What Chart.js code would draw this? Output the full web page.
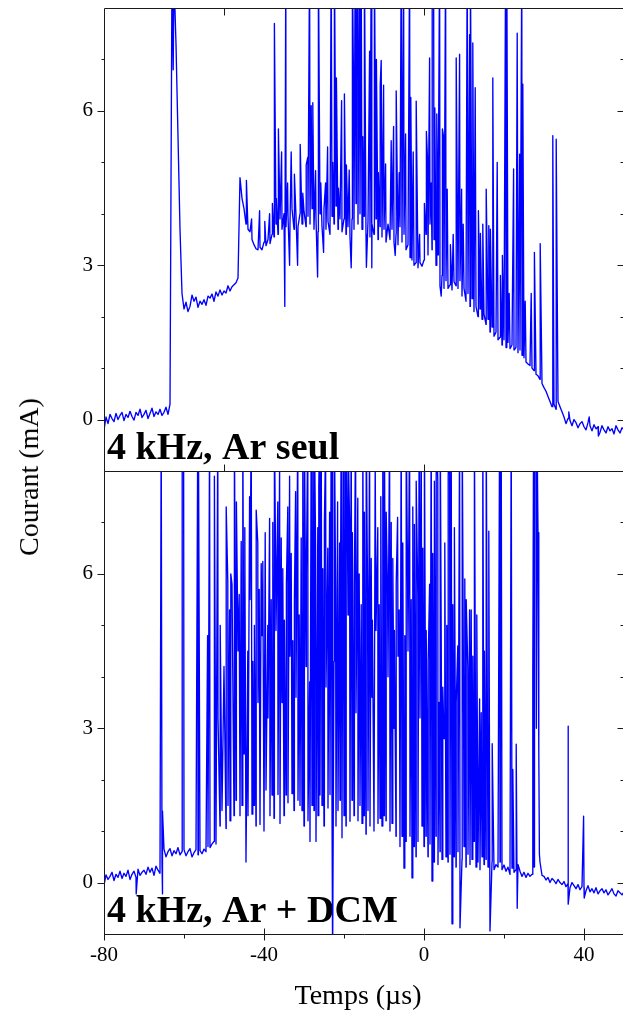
<!DOCTYPE html>
<html>
<head>
<meta charset="utf-8">
<script src="https://cdn.jsdelivr.net/npm/chart.js@4.4.1/dist/chart.umd.min.js"></script>
<style>
  html, body { margin: 0; padding: 0; background: #fff; overflow: hidden; }
  #wrap { position: relative; width: 623px; height: 1019px; overflow: hidden; }
  canvas { position: absolute; left: 0; top: 0; }
  .title { position: absolute; font-family: "Liberation Serif", serif; font-size: 28px; line-height: 1; white-space: nowrap; color: #000; }
  #ytitle { left: 29px; top: 477px; transform: translate(-50%, -50%) rotate(-90deg); }
  #xtitle { left: 358px; top: 981px; transform: translateX(-50%); }
</style>
</head>
<body>
<div id="wrap">
  <canvas id="topChart" width="630" height="500"></canvas>
  <canvas id="bottomChart" width="630" height="1019"></canvas>
  <div id="ytitle" class="title">Courant (mA)</div>
  <div id="xtitle" class="title">Temps (µs)</div>
</div>
<script>
// ------------------------------------
// DATA (time in µs, current in mA)
// ------------------------------------
const sampleStart = -80;
const sampleStep = 0.5;

const xTickLabels = [-80, -40, 0, 40];
const xMinorTicks = [-60, -20, 20];
const topXTicks = [-50, 0, 50];
const yTickLabels = [0, 3, 6];
const yMinorTicks = [1, 2, 4, 5, 7];

const topLabel = "4 kHz, Ar seul";
const bottomLabel = "4 kHz, Ar + DCM";

// slow part of the signal, one value every 0.5 µs from -80 µs
const topBase = [
  -0.2, 0.05, -0.08, 0.1, 0.02, -0.04, 0.12, 0.0, 0.08, 0.14,     // -80
  -0.02, 0.1, 0.04, 0.16, 0.06, -0.01, 0.14, 0.08, 0.2, 0.04,     // -75
  0.1, 0.18, 0.02, 0.12, 0.22, 0.06, 0.15, 0.1, 0.2, 0.08,        // -70
  0.14, 0.24, 0.1, 0.3, 8.8, 8.6, 7.3, 5.5, 3.7, 2.45,            // -65
  2.15, 2.28, 2.1, 2.2, 2.42, 2.3, 2.38, 2.18, 2.3, 2.24,         // -60
  2.33, 2.22, 2.4, 2.36, 2.44, 2.3, 2.48, 2.4, 2.52, 2.42,        // -55
  2.5, 2.46, 2.6, 2.5, 2.58, 2.62, 2.66, 2.75, 4.7, 4.3,          // -50
  4.1, 3.8, 3.7, 3.65, 3.5, 3.4, 3.32, 3.3, 3.35, 3.3,            // -45
  3.45, 3.38, 3.5, 3.42, 3.6, 3.55, 3.8, 3.6, 3.9, 3.7,           // -40
  4.0, 3.75, 3.95, 3.8, 4.1, 3.7, 3.95, 3.75, 4.0, 3.8,           // -35
  4.05, 3.75, 3.95, 3.8, 4.1, 3.7, 3.9, 3.65, 4.0, 3.75,          // -30
  4.1, 3.7, 3.85, 3.6, 3.95, 3.8, 4.15, 3.7, 3.9, 3.65,           // -25
  3.9, 3.6, 3.75, 3.55, 3.9, 3.7, 4.2, 3.8, 4.0, 3.7,             // -20
  3.95, 3.6, 3.85, 3.55, 3.8, 3.6, 3.9, 3.5, 3.75, 3.55,          // -15
  3.7, 3.45, 3.8, 3.5, 3.7, 3.45, 3.6, 3.4, 3.75, 3.45,           // -10
  3.6, 3.3, 3.4, 3.15, 3.1, 3.0, 3.05, 2.95, 3.05, 2.98,          // -5
  3.1, 3.6, 3.2, 3.8, 3.3, 3.5, 3.0, 3.2, 2.6, 2.8,               // 0
  2.55, 2.7, 2.55, 2.62, 2.52, 2.68, 2.6, 2.55, 2.7, 2.4,         // 5
  2.55, 2.3, 2.45, 2.2, 2.35, 2.1, 2.2, 2.0, 2.15, 1.95,          // 10
  2.05, 1.85, 1.95, 1.7, 1.8, 1.62, 1.7, 1.55, 1.6, 1.45,         // 15
  1.55, 1.4, 1.5, 1.38, 1.45, 1.35, 1.4, 1.3, 1.35, 1.25,         // 20
  1.2, 1.12, 1.08, 1.05, 1.0, 0.95, 0.88, 0.85, 0.78, 0.7,        // 25
  0.62, 0.55, 0.45, 0.35, 0.25, 0.3, 0.2, 0.35, 0.25, 0.15,       // 30
  0.05, -0.08, 0.02, -0.02, -0.12, 0.0, -0.06, -0.16, -0.08, -0.04,   // 35
  -0.14, -0.2, -0.06, -0.12, -0.22, -0.1, -0.18, -0.14, -0.25, -0.12, // 40
  -0.2, -0.26, -0.14, -0.22, -0.18, -0.28, -0.12, -0.2, -0.26, -0.16, // 45
  -0.2                                                             // 50
];

// narrow spikes on top of the slow part: [time, current]
const topSpikes = [
  [-62.7, 6.8], [-44.4, 4.65], [-43.1, 3.9], [-41.1, 4.06], [-39.8, 3.85],
  [-38.6, 4.0], [-37.9, 4.2], [-37.4, 7.7], [-36.9, 4.3], [-36.4, 5.65],
  [-35.6, 5.2], [-34.8, 2.2], [-34.55, 9], [-34.1, 4.6], [-33.6, 3.0],
  [-33.2, 5.2], [-32.4, 4.77], [-31.6, 3.0], [-30.95, 5.35], [-30.3, 4.4],
  [-29.45, 4.95], [-29.05, 5.1], [-28.6, 9], [-28.2, 6.1], [-27.8, 6.16],
  [-27.1, 4.84], [-26.6, 2.77], [-26.4, 9], [-25.8, 4.6], [-25.1, 3.25],
  [-24.6, 4.6], [-24.1, 5.3], [-23.2, 9], [-22.8, 5.0], [-22.4, 9],
  [-21.9, 6.64], [-21.4, 4.5], [-20.6, 6.2], [-19.9, 6.33], [-19.4, 4.95],
  [-18.7, 4.85], [-18.2, 2.95], [-17.9, 9], [-17.6, 6.3], [-17.2, 9],
  [-16.9, 7.48], [-16.6, 9], [-16.1, 9], [-15.7, 9], [-15.3, 5.5],
  [-14.9, 9], [-14.4, 2.96], [-13.6, 7.16], [-13.2, 9], [-13.05, 2.95],
  [-12.4, 9], [-11.9, 7.0], [-11.4, 4.8], [-10.95, 6.5], [-10.7, 6.98],
  [-10.1, 6.5], [-9.6, 4.97], [-8.2, 5.42], [-7.6, 5.7], [-7.2, 3.19],
  [-6.95, 6.39], [-6.2, 4.8], [-5.7, 9], [-5.1, 9], [-4.6, 5.55],
  [-3.6, 9], [-3.3, 6.26], [-2.7, 5.2], [-1.95, 6.19], [-1.1, 3.6],
  [0.1, 4.2], [0.6, 5.6], [0.9, 5.03], [1.4, 7.03], [1.8, 4.6],
  [2.05, 9], [2.4, 9], [2.7, 6.06], [3.2, 5.94], [3.6, 4.9],
  [3.9, 9], [4.3, 2.4], [4.6, 5.65], [4.9, 5.5], [5.4, 9],
  [5.8, 4.48], [6.6, 3.4], [7.3, 3.6], [8.05, 7.03], [8.9, 7.1],
  [9.4, 4.48], [9.8, 3.8], [10.8, 9], [11.4, 7.48], [11.6, 9],
  [12.2, 7.32], [12.8, 6.45], [13.6, 4.06], [14.1, 3.62], [14.7, 3.8],
  [15.55, 4.48], [16.2, 3.77], [16.6, 3.7], [17.2, 6.64], [18.3, 5.0],
  [19.1, 2.8], [19.6, 3.19], [20.4, 9], [20.7, 9], [21.3, 2.45],
  [22.4, 4.87], [23.3, 7.51], [23.9, 5.16], [24.45, 9], [24.7, 6.52],
  [25.3, 2.3], [26.8, 2.45], [27.6, 3.25], [29.05, 3.42], [32.2, 5.52],
  [33.05, 5.45], [33.3, 2.52], [36.2, 0.15], [41.3, 0.05], [43.6, -0.32]
];

const bottomBase = [
  -0.05, 0.15, 0.06, 0.12, 0.2, 0.04, 0.16, 0.1, 0.22, 0.08,      // -80
  0.18, 0.12, 0.24, 0.06, 0.16, 0.22, 0.1, 0.26, 0.14, 0.2,       // -75
  0.24, 0.16, 0.3, 0.2, 0.28, 0.14, 0.32, 0.24, 0.18, 0.36,       // -70
  0.65, 0.5, 0.6, 0.66, 0.52, 0.62, 0.56, 0.68, 0.54, 0.6,        // -65
  0.64, 0.52, 0.6, 0.66, 0.5, 0.58, 0.64, 0.54, 0.62, 0.56,       // -60
  0.65, 0.6, 0.7, 0.68, 0.75, 0.8, 0.75, 3.2, 1.1, 1.4,           // -55
  4.2, 1.05, 1.5, 1.2, 5.8, 1.3, 1.6, 4.5, 1.3, 1.5,              // -50
  2.5, 0.4, 1.3, 5.5, 1.33, 1.5, 1.1, 3.5, 1.13, 4.8,             // -45
  1.0, 1.8, 3.2, 1.3, 1.7, 1.25, 4.9, 1.71, 1.15, 3.5,            // -40
  1.3, 1.7, 1.55, 4.4, 1.73, 1.4, 3.6, 1.6, 1.5, 1.4,             // -35
  1.1, 4.2, 1.2, 0.8, 1.5, 1.4, 0.8, 1.3, 1.7, 1.5,               // -30
  1.1, 3.8, 1.45, 1.71, 1.5, 4.3, 1.1, 1.4, 1.6, 0.87,            // -25
  1.3, 1.1, 5.2, 1.19, 1.6, 1.3, 3.3, 1.2, 1.5, 1.15,             // -20
  1.3, 0.94, 1.4, 1.1, 3.6, 1.0, 4.9, 1.15, 1.25, 1.1,            // -15
  1.3, 1.2, 4.0, 1.0, 1.15, 3.0, 0.9, 4.4, 0.7, 0.9,              // -10
  0.28, 0.8, 4.5, 0.9, 0.09, 0.7, 0.5, 0.8, 3.2, 1.1,             // -5
  0.7, 0.9, 0.5, 0.75, 0.03, 0.4, 0.9, 0.35, 0.6, 0.45,           // 0
  2.8, 0.5, 0.4, 0.55, -0.8, 0.5, 0.3, 0.6, -0.88, 0.45,          // 5
  0.7, 0.3, 0.55, 0.35, 0.45, 0.8, 0.3, 0.4, 0.25, 0.5,           // 10
  0.35, 0.45, 0.3, -0.94, 0.4, 0.25, 0.35, 0.3, 0.4, 0.25,        // 15
  0.34, 0.22, 0.3, 0.16, 0.28, 0.2, 0.25, 0.35, 0.22, 0.12,       // 20
  0.2, 0.1, 0.18, 0.12, 0.16, 0.3, 9, 6.8, 0.4, 0.14,             // 25
  0.12, 0.05, 0.1, 0.0, 0.08, 0.04, -0.02, 0.06, 0.0, -0.04,      // 30
  0.02, -0.08, -0.02, -0.1, 0.0, -0.06, -0.12, -0.04, -0.14, -0.08,   // 35
  -0.1, -0.16, -0.06, -0.18, -0.12, -0.2, -0.1, -0.22, -0.16, -0.12,  // 40
  -0.2, -0.14, -0.24, -0.18, -0.12, -0.22, -0.26, -0.16, -0.2, -0.24, // 45
  -0.18                                                            // 50
];

const bottomSpikes = [
  [-71.95, -0.22], [-65.7, 9], [-65.45, -0.22], [-65.3, 1.39], [-60.45, 9],
  [-60.1, 9], [-56.55, 9], [-56.4, 9], [-54.1, 4.8], [-53.6, 9],
  [-52.4, 7.9], [-51.55, 9], [-50.95, 5.0], [-49.45, 7.3], [-49.05, 5.85],
  [-48.6, 5.3], [-48.3, 6.0], [-47.4, 9], [-46.9, 7.4], [-46.2, 5.6],
  [-45.7, 6.63], [-45.3, 9], [-44.8, 6.9], [-44.05, 4.5], [-43.6, 7.5],
  [-43.2, 9], [-42.8, 4.3], [-42.4, 5.0], [-41.95, 7.24], [-41.55, 6.6],
  [-41.2, 5.7], [-40.7, 6.2], [-40.3, 6.24], [-39.7, 6.8], [-39.05, 5.0],
  [-38.6, 7.08], [-38.2, 5.5], [-37.8, 7.0], [-37.4, 9], [-37.1, 6.3],
  [-36.55, 7.4], [-36.1, 8.2], [-35.7, 6.7], [-35.3, 6.1], [-34.9, 5.1],
  [-34.4, 5.8], [-34.05, 7.3], [-33.6, 7.9], [-33.2, 6.4], [-32.8, 4.7],
  [-32.4, 5.5], [-32.1, 7.6], [-31.55, 9], [-31.2, 5.2], [-30.7, 6.7],
  [-30.3, 8.4], [-29.9, 9], [-29.4, 6.0], [-29.05, 9], [-28.6, 3.9],
  [-28.2, 9], [-27.8, 9], [-27.4, 9], [-27.1, 6.5], [-26.55, 6.9],
  [-26.3, 7.7], [-26.1, 9], [-25.7, 9], [-25.3, 6.1], [-24.9, 7.0],
  [-24.6, 8.6], [-24.05, 6.5], [-23.6, 7.2], [-23.2, 9], [-22.9, 9],
  [-22.8, -1.5], [-22.4, 9], [-22.1, 5.7], [-21.6, 7.4], [-21.1, 6.6],
  [-20.9, 5.2], [-20.7, 9], [-20.2, 9], [-19.8, 9], [-19.45, 9],
  [-19.1, 6.4], [-18.9, 8.3], [-18.6, 7.0], [-18.2, 9], [-17.9, 6.8],
  [-17.4, 5.8], [-17.1, 9], [-16.55, 7.47], [-16.2, 6.0], [-15.7, 5.4],
  [-15.3, 9], [-14.9, 7.2], [-14.45, 9], [-14.1, 5.6], [-13.6, 9],
  [-13.2, 6.3], [-12.9, 5.1], [-12.2, 8.2], [-11.55, 6.9], [-11.2, 5.4],
  [-10.8, 7.5], [-10.3, 9], [-9.9, 9], [-9.45, 7.2], [-9.1, 5.6],
  [-8.6, 9], [-8.2, 7.0], [-7.8, 6.3], [-7.4, 4.9], [-6.95, 5.8],
  [-6.6, 7.1], [-6.2, 5.3], [-5.7, 9], [-5.3, 6.6], [-4.8, 4.8],
  [-4.45, 9], [-4.1, 5.9], [-3.6, 9], [-3.2, 5.5], [-2.8, 7.3],
  [-2.4, 6.96], [-1.95, 7.8], [-1.55, 5.6], [-1.2, 9], [-0.7, 9],
  [-0.3, 6.5], [0.1, 9], [0.55, 4.9], [1.05, 4.3], [1.4, 5.8],
  [1.8, 9], [2.2, 6.4], [2.6, 7.8], [3.05, 9], [3.45, 7.8],
  [3.8, 3.5], [4.05, 9], [4.3, 4.9], [4.7, 3.8], [5.2, 6.6],
  [5.7, 5.0], [6.05, 7.9], [6.4, 9], [6.8, 9], [7.2, 5.4],
  [7.6, 6.9], [8.05, 3.5], [8.45, 4.6], [8.9, 9], [9.55, 9],
  [9.9, 3.3], [10.2, 5.9], [10.55, 5.5], [10.95, 4.2], [11.4, 5.3],
  [11.8, 5.3], [12.2, 4.4], [12.6, 9], [13.2, 5.2], [13.9, 3.57],
  [14.3, 3.3], [14.7, 9], [15.1, 4.5], [15.55, 9], [16.2, 6.83],
  [17.05, 2.7], [18.9, 9], [19.1, 5.3], [19.3, 9], [21.8, 9],
  [22.2, 2.2], [23.05, 2.69], [23.3, -0.5], [27.2, 4.1], [27.4, 9],
  [27.55, 1.0], [27.7, 9], [27.95, 9], [28.1, 3.0], [28.3, 8.5],
  [28.7, 2.55], [28.85, 0.55], [36.0, 3.04], [36.1, -0.42], [39.9, 1.29],
  [40.05, -0.3]
];

// ------------------------------------
// merge slow part + spikes into one {x, y} series
// ------------------------------------
function buildSeries(base, spikes) {
  const pts = base.map((v, i) => ({ x: sampleStart + i * sampleStep, y: v }));
  spikes.forEach(([t, v]) => pts.push({ x: t, y: v }));
  pts.sort((a, b) => a.x - b.x);
  return pts;
}

// ------------------------------------
// PLUGINS: panel label + Origin-style frame with ticks
// ------------------------------------
const panelLabel = {
  id: "panelLabel",
  beforeDatasetsDraw(chart, args, opts) {
    const { ctx, chartArea: a } = chart;
    ctx.save();
    ctx.font = 'bold 38px "Liberation Serif", serif';
    ctx.fillStyle = "#000";
    ctx.textBaseline = "alphabetic";
    ctx.fillText(opts.text, a.left + 3, a.bottom - 12);
    ctx.restore();
  },
};

const axisFrame = {
  id: "axisFrame",
  afterDatasetsDraw(chart, args, opts) {
    const { ctx, chartArea: a, scales } = chart;
    const px = (v) => Math.round(v) + 0.5;
    const L = px(a.left), R = px(a.right), T = px(a.top), B = px(a.bottom);
    ctx.save();
    ctx.strokeStyle = "#1a1a1a";
    ctx.lineWidth = 1;
    ctx.beginPath();
    ctx.rect(L, T, R - L, B - T);
    opts.yMajor.forEach((v) => {
      const p = px(scales.y.getPixelForValue(v));
      ctx.moveTo(L - 7, p); ctx.lineTo(L, p);
      ctx.moveTo(R, p); ctx.lineTo(R - 7, p);
    });
    opts.yMinor.forEach((v) => {
      const p = px(scales.y.getPixelForValue(v));
      ctx.moveTo(L - 3, p); ctx.lineTo(L, p);
      ctx.moveTo(R, p); ctx.lineTo(R - 4, p);
    });
    opts.xMajor.forEach((v) => {
      const p = px(scales.x.getPixelForValue(v));
      if (opts.labelled) {
        ctx.moveTo(p, B - 6); ctx.lineTo(p, B + 6);
      } else {
        ctx.moveTo(p, B); ctx.lineTo(p, B - 7);
        ctx.moveTo(p, T); ctx.lineTo(p, T + 7);
      }
    });
    opts.xMinor.forEach((v) => {
      const p = px(scales.x.getPixelForValue(v));
      ctx.moveTo(p, B); ctx.lineTo(p, B + 4);
    });
    ctx.stroke();
    ctx.restore();
  },
};

Chart.defaults.font.family = '"Liberation Serif", serif';
Chart.defaults.font.size = 21;
Chart.defaults.color = "#000";

// ------------------------------------
// one panel = one chart
// ------------------------------------
function panelChart(id, points, label, labelled) {
  return new Chart(document.getElementById(id), {
    type: "line",
    data: {
      datasets: [
        {
          data: points,
          borderColor: "#0000ff",
          borderWidth: 1.35,
          pointRadius: 0,
          tension: 0,
          fill: false,
          borderJoinStyle: "round",
        },
      ],
    },
    options: {
      responsive: false,
      animation: false,
      devicePixelRatio: 1,
      parsing: false,
      normalized: true,
      layout: {
        padding: labelled
          ? { top: 471, right: 6, bottom: 0, left: 0 }
          : { top: 8, right: 6, bottom: 29, left: 0 },
      },
      plugins: {
        legend: { display: false },
        tooltip: { enabled: false },
        panelLabel: { text: label },
        axisFrame: {
          yMajor: yTickLabels,
          yMinor: yMinorTicks,
          xMajor: labelled ? xTickLabels : topXTicks,
          xMinor: labelled ? xMinorTicks : [],
          labelled: labelled,
        },
      },
      scales: {
        x: {
          type: "linear",
          min: -80,
          max: 50,
          display: labelled,
          grid: { display: false, drawTicks: false },
          border: { display: false },
          ticks: { padding: 9, maxRotation: 0, autoSkip: false },
          afterBuildTicks: (s) => { s.ticks = xTickLabels.map((v) => ({ value: v })); },
          afterFit: (s) => { s.height = labelled ? 85 : 0; s.paddingLeft = 0; s.paddingRight = 0; },
        },
        y: {
          type: "linear",
          min: -1,
          max: 8,
          grid: { display: false, drawTicks: false },
          border: { display: false },
          ticks: { padding: 11 },
          afterBuildTicks: (s) => { s.ticks = yTickLabels.map((v) => ({ value: v })); },
          afterFit: (s) => { s.width = 104; s.paddingTop = 0; s.paddingBottom = 0; },
        },
      },
    },
    plugins: [panelLabel, axisFrame],
  });
}

panelChart("topChart", buildSeries(topBase, topSpikes), topLabel, false);
panelChart("bottomChart", buildSeries(bottomBase, bottomSpikes), bottomLabel, true);
</script>
</body>
</html>
